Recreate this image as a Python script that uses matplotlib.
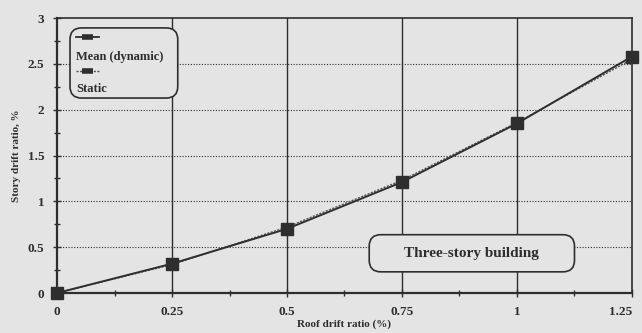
import matplotlib
matplotlib.use("Agg")
import matplotlib.pyplot as plt
from matplotlib.patches import FancyBboxPatch
from matplotlib.lines import Line2D

roof_drift = [0, 0.25, 0.5, 0.75, 1.0, 1.25]
mean_dynamic = [0, 0.32, 0.70, 1.21, 1.85, 2.58]
static = [0, 0.31, 0.72, 1.23, 1.86, 2.55]
x_ticks = [0, 0.25, 0.5, 0.75, 1, 1.25]
x_tick_labels = ["0", "0.25", "0.5", "0.75", "1", "1.25"]
y_ticks = [0, 0.5, 1, 1.5, 2, 2.5, 3]
y_tick_labels = ["0", "0.5", "1", "1.5", "2", "2.5", "3"]

ink = "#2e2e2e"
bg = "#e4e4e4"
font = dict(family="Liberation Serif", weight="bold", color=ink)

fig = plt.figure(figsize=(6.42, 3.33), dpi=100, facecolor=bg)
ax = fig.add_axes([0.0888, 0.1201, 0.8956, 0.8258], facecolor=bg)

ax.set_xlim(0, 1.25)
ax.set_ylim(0, 3)

# grid: solid verticals, dotted horizontals
for xv in x_ticks[1:-1]:
    ax.axvline(xv, color=ink, lw=1.0, zorder=1)
for yv in y_ticks[1:-1]:
    ax.axhline(yv, color=ink, lw=0.8, ls=(0, (1, 1.5)), zorder=1)

ax.plot(roof_drift, static, color="#555555", lw=1.0, ls=(0, (1.5, 1)), zorder=3)
ax.plot(roof_drift, mean_dynamic, color=ink, lw=1.4, marker="s", ms=8.5,
        mfc=ink, mec=ink, zorder=4, clip_on=False)

for side in ["left", "bottom"]:
    ax.spines[side].set_linewidth(1.6)
for side in ["top", "right"]:
    ax.spines[side].set_linewidth(1.2)
for s in ax.spines.values():
    s.set_color(ink)

ax.set_xticks(x_ticks)
ax.set_xticklabels(x_tick_labels, fontsize=9.5, **font)
ax.get_xticklabels()[-1].set_horizontalalignment("right")
ax.set_yticks(y_ticks)
ax.set_yticklabels(y_tick_labels, fontsize=9.5, **font)
ax.set_xticks([0.125, 0.375, 0.625, 0.875, 1.125], minor=True)
ax.set_yticks([0.25, 0.75, 1.25, 1.75, 2.25, 2.75], minor=True)
ax.tick_params(axis="both", which="major", direction="inout", length=6,
               width=1.0, color=ink, pad=6)
ax.tick_params(axis="both", which="minor", direction="inout", length=4,
               width=1.0, color=ink)

ax.set_xlabel("Roof drift ratio (%)", fontsize=8, labelpad=1, **font)
ax.set_ylabel("Story drift ratio, %", fontsize=8, labelpad=5, **font)

# legend box with samples above each label
leg = FancyBboxPatch((0.0226, 0.709), 0.1874, 0.255, boxstyle="round,pad=0,rounding_size=0.02",
                     transform=ax.transAxes, fc=bg, ec=ink, lw=1.2, zorder=5,
                     mutation_aspect=575 / 275)
ax.add_patch(leg)
ax.add_line(Line2D([0.033, 0.073], [0.931, 0.931], transform=ax.transAxes,
                   color=ink, lw=1.3, zorder=6))
ax.add_line(Line2D([0.043, 0.063], [0.931, 0.931], transform=ax.transAxes,
                   color=ink, lw=4, solid_capstyle="butt", zorder=6))
ax.text(0.033, 0.858, "Mean (dynamic)", transform=ax.transAxes, fontsize=9,
        va="center", ha="left", zorder=6, **font)
ax.add_line(Line2D([0.033, 0.073], [0.807, 0.807], transform=ax.transAxes,
                   color="#555555", lw=1.0, ls=(0, (1.5, 1)), zorder=6))
ax.add_line(Line2D([0.043, 0.063], [0.807, 0.807], transform=ax.transAxes,
                   color=ink, lw=4, solid_capstyle="butt", zorder=6))
ax.text(0.033, 0.742, "Static", transform=ax.transAxes, fontsize=9,
        va="center", ha="left", zorder=6, **font)

# title box
tb = FancyBboxPatch((0.543, 0.077), 0.357, 0.135, boxstyle="round,pad=0,rounding_size=0.02",
                    transform=ax.transAxes, fc=bg, ec=ink, lw=1.2, zorder=5,
                    mutation_aspect=575 / 275)
ax.add_patch(tb)
ax.text(0.7215, 0.145, "Three-story building", transform=ax.transAxes, fontsize=11,
        va="center", ha="center", zorder=6, **font)

fig.savefig("out.png", dpi=100, facecolor=bg)
